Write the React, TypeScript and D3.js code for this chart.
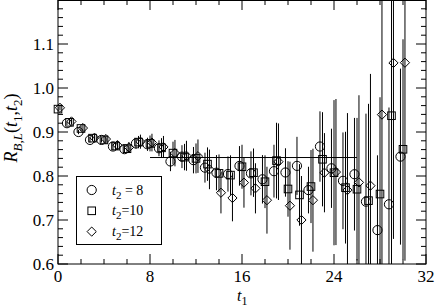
import React from 'react';
import * as d3 from 'd3';

// ---- data ----
const t1Circle = [1,2,3,4,5,6,7,8,9,10,11,12,13,14,15,16,17,18,19,20,21,22,23,24,25,26,27,28,29,30];
const rCircle = [0.920,0.900,0.882,0.882,0.867,0.861,0.874,0.872,0.863,0.833,0.844,0.836,0.819,0.8075,0.8045,0.823,0.806,0.7925,0.811,0.808,0.823,0.768,0.867,0.8175,0.789,0.804,0.7417,0.677,0.7357,0.844];
const eCircle = [0.004,0.005,0.006,0.006,0.008,0.009,0.012,0.015,0.018,0.022,0.026,0.03,0.034,0.04,0.04,0.045,0.05,0.055,0.06,0.055,0.066,0.053,0.08,0.09,0.11,0.128,0.2,0.17,0.22,0.2];

const t1Square = [0,1,2,3,4,5,6,7,8,9,10,11,12,13,14,15,16,17,18,19,20,21,22,23,24,25,26,27,28,29,30];
const rSquare = [0.952,0.922,0.908,0.886,0.882,0.868,0.862,0.877,0.874,0.864,0.852,0.843,0.840,0.827,0.806,0.802,0.821,0.8075,0.787,0.835,0.7705,0.757,0.776,0.838,0.8075,0.7735,0.770,0.744,0.759,0.937,0.8607];
const eSquare = [0.005,0.005,0.006,0.007,0.007,0.009,0.01,0.014,0.018,0.022,0.026,0.03,0.034,0.038,0.043,0.045,0.05,0.055,0.06,0.086,0.063,0.07,0.083,0.107,0.165,0.127,0.162,0.22,0.22,0.35,0.25];

const t1Diamond = [0,1,2,3,4,5,6,7,8,9,10,11,12,13,14,15,16,17,18,19,20,21,22,23,24,25,26,27,28,29,30];
const rDiamond = [0.955,0.924,0.909,0.887,0.884,0.870,0.865,0.878,0.876,0.866,0.852,0.846,0.845,0.815,0.762,0.750,0.785,0.772,0.745,0.8325,0.7325,0.700,0.745,0.8075,0.809,0.768,0.7855,0.778,0.9395,1.057,1.0575];
const eDiamond = [0.006,0.006,0.007,0.008,0.008,0.01,0.012,0.016,0.02,0.025,0.03,0.034,0.038,0.045,0.047,0.053,0.057,0.057,0.076,0.087,0.1,0.1,0.117,0.09,0.166,0.175,0.198,0.254,0.35,0.4,0.45];

const fitValue = 0.842;
const fitRange = [8, 26];

const xTicksMajor = [0, 8, 16, 24, 32];
const yTicksMajor = [0.6, 0.7, 0.8, 0.9, 1.0, 1.1];
const legendLabels = ['8', '10', '12'];

// ---- layout ----
const W = 436, H = 308;
const L = 58, R = 426, T = 0, B = 264;
const FONT = 'Liberation Serif, DejaVu Serif, Times New Roman, serif';

const x = d3.scaleLinear().domain([0, 32]).range([L, R]);
const y = d3.scaleLinear().domain([0.6, 1.2]).range([B, T]);

type Sym = 'circle' | 'square' | 'diamond';

function Marker({ sym, cx, cy }: { sym: Sym; cx: number; cy: number }) {
  const common = { fill: 'none', stroke: '#000', strokeWidth: 1 };
  if (sym === 'circle') return <circle cx={cx} cy={cy} r={4.6} {...common} />;
  if (sym === 'square') return <rect x={cx - 3.8} y={cy - 3.8} width={7.6} height={7.6} {...common} />;
  const r = 4.6;
  return <path d={`M${cx},${cy - r}L${cx + r},${cy}L${cx},${cy + r}L${cx - r},${cy}Z`} {...common} />;
}

const series: { sym: Sym; t: number[]; v: number[]; e: number[]; shift: number }[] = [
  { sym: 'circle', t: t1Circle, v: rCircle, e: eCircle, shift: -0.22 },
  { sym: 'square', t: t1Square, v: rSquare, e: eSquare, shift: 0 },
  { sym: 'diamond', t: t1Diamond, v: rDiamond, e: eDiamond, shift: 0.17 },
];

export default function App() {
  const xMinor = d3.range(0, 33, 2).filter((d) => d % 8 !== 0);
  const yMinor = d3.range(0, 30).map((i) => 0.6 + i * 0.02).filter((_, i) => i % 5 !== 0);
  return (
    <svg width={W} height={H} style={{ position: 'absolute', left: 0, top: 0, background: '#fff' }}>
      <defs>
        <clipPath id="plotClip"><rect x={L} y={T} width={R - L} height={B - T} /></clipPath>
      </defs>
      <rect x={0} y={0} width={W} height={H} fill="#fff" />
      {/* error bars */}
      <g clipPath="url(#plotClip)" stroke="#000" strokeWidth={1}>
        {series.map((s) =>
          s.t.map((t, i) => (
            <line key={s.sym + i} x1={x(t + s.shift)} x2={x(t + s.shift)}
              y1={y(s.v[i] - s.e[i])} y2={y(s.v[i] + s.e[i])} />
          ))
        )}
      </g>
      {/* fit line */}
      <line x1={x(fitRange[0])} x2={x(fitRange[1])} y1={y(fitValue)} y2={y(fitValue)} stroke="#000" strokeWidth={1} />
      {/* markers */}
      <g>
        {series.map((s) =>
          s.t.map((t, i) => <Marker key={s.sym + 'm' + i} sym={s.sym} cx={x(t + s.shift)} cy={y(s.v[i])} />)
        )}
      </g>
      {/* frame */}
      <rect x={L} y={T + 0.5} width={R - L} height={B - T - 0.5} fill="none" stroke="#000" strokeWidth={1} />
      {/* ticks */}
      <g stroke="#000" strokeWidth={1}>
        {xTicksMajor.map((d) => (
          <g key={'xM' + d}>
            <line x1={x(d)} x2={x(d)} y1={B} y2={B - 10} />
            <line x1={x(d)} x2={x(d)} y1={T} y2={T + 10} />
          </g>
        ))}
        {xMinor.map((d) => (
          <g key={'xm' + d}>
            <line x1={x(d)} x2={x(d)} y1={B} y2={B - 5} />
            <line x1={x(d)} x2={x(d)} y1={T} y2={T + 5} />
          </g>
        ))}
        {yTicksMajor.map((d) => (
          <g key={'yM' + d}>
            <line x1={L} x2={L + 10} y1={y(d)} y2={y(d)} />
            <line x1={R} x2={R - 10} y1={y(d)} y2={y(d)} />
          </g>
        ))}
        {yMinor.map((d, i) => (
          <g key={'ym' + i}>
            <line x1={L} x2={L + 5} y1={y(d)} y2={y(d)} />
            <line x1={R} x2={R - 5} y1={y(d)} y2={y(d)} />
          </g>
        ))}
      </g>
      {/* tick labels */}
      {xTicksMajor.map((d) => (
        <text key={'xl' + d} x={x(d)} y={282} textAnchor="middle" fontFamily={FONT} fontSize={17} fill="#000">{d}</text>
      ))}
      {yTicksMajor.map((d) => (
        <text key={'yl' + d} x={54} y={y(d)} dy="0.36em" textAnchor="end" fontFamily={FONT} fontSize={17} fill="#000">{d.toFixed(1)}</text>
      ))}
      {/* axis titles */}
      <text x={237} y={301} fontSize={16} fontFamily={FONT}>
        <tspan fontStyle="italic">t</tspan>
        <tspan fontSize={12} dy={4}>1</tspan>
      </text>
      <text transform={`translate(17,${(T + B) / 2 - 4}) rotate(-90)`} textAnchor="middle" fontSize={18} fontFamily={FONT}>
        <tspan fontStyle="italic">R</tspan>
        <tspan fontSize={13} dy={5} fontStyle="italic">B,L</tspan>
        <tspan dy={-5}>(</tspan>
        <tspan fontStyle="italic">t</tspan>
        <tspan fontSize={13} dy={5}>1</tspan>
        <tspan dy={-5}>,</tspan>
        <tspan fontStyle="italic">t</tspan>
        <tspan fontSize={13} dy={5}>2</tspan>
        <tspan dy={-5}>)</tspan>
      </text>
      {/* legend */}
      <rect x={76.5} y={176.5} width={85} height={68} fill="#fff" stroke="#000" strokeWidth={1} />
      {(['circle', 'square', 'diamond'] as Sym[]).map((s, i) => (
        <g key={'lg' + s}>
          <Marker sym={s} cx={91.7} cy={190 + i * 20.8} />
          <text x={112} y={194.5 + i * 20.8} fontSize={14} fontFamily={FONT}>
            <tspan fontStyle="italic">t</tspan>
            <tspan fontSize={11} dy={4}>2</tspan>
            <tspan dy={-4}>{i === 0 ? ' = ' + legendLabels[i] : '=' + legendLabels[i]}</tspan>
          </text>
        </g>
      ))}
    </svg>
  );
}
